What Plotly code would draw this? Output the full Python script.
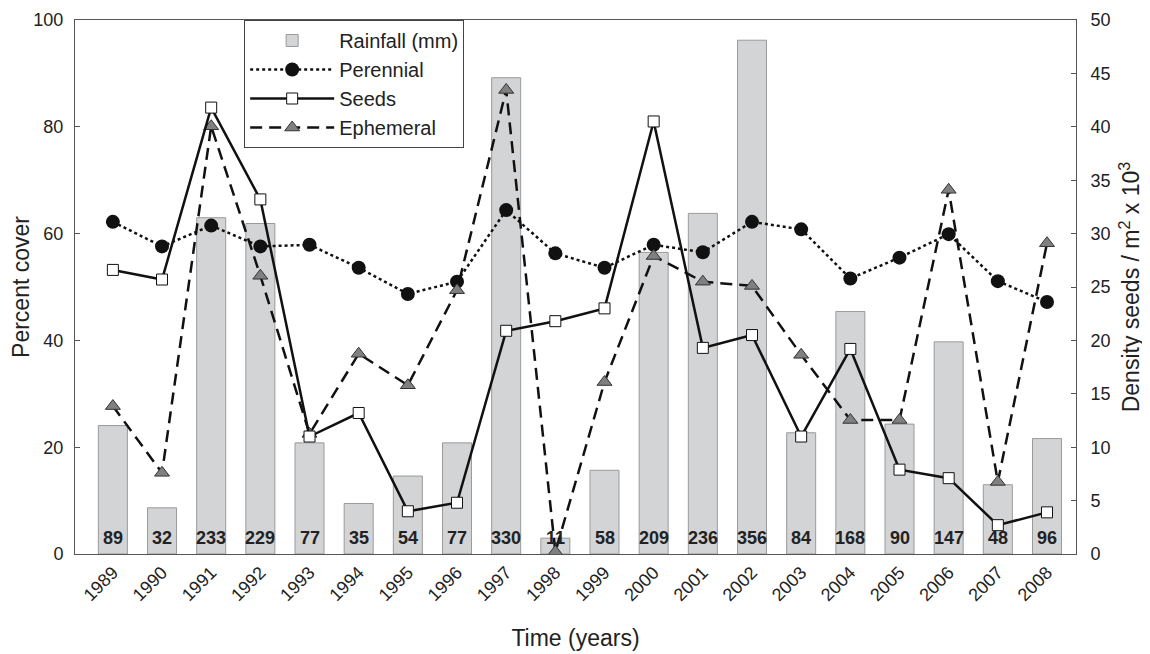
import plotly.graph_objects as go

years = list(range(1989, 2009))
rainfall_labels = [89, 32, 233, 229, 77, 35, 54, 77, 330, 11, 58, 209, 236, 356, 84, 168, 90, 147, 48, 96]
# bar heights as drawn in the picture (mm)
rainfall_bars = [89, 32, 233, 229, 77, 35, 54, 77, 330, 11, 58, 209, 236, 356, 84, 168, 90, 147, 48, 80]
perennial = [62.2, 57.6, 61.5, 57.6, 57.9, 53.6, 48.7, 51.0, 64.4, 56.3,
             53.6, 57.9, 56.5, 62.2, 60.8, 51.6, 55.5, 59.9, 51.1, 47.2]
seeds = [26.6, 25.7, 41.8, 33.2, 11.0, 13.2, 4.0, 4.8, 20.9, 21.8,
         23.0, 40.5, 19.3, 20.5, 11.0, 19.2, 7.9, 7.1, 2.7, 3.9]
ephemeral = [27.7, 15.2, 80.1, 52.1, 22.5, 37.5, 31.6, 49.4, 86.9, 0.4,
             32.2, 55.8, 51.0, 50.2, 37.3, 25.1, 25.1, 68.2, 13.5, 58.2]

FONT = "Liberation Sans, Arial, sans-serif"
AX = "#555555"

fig = go.Figure()
fig.add_trace(go.Bar(x=years, y=rainfall_bars, name="Rainfall (mm)", width=0.59,
                     marker=dict(color="#d3d4d6", line=dict(color="#9a9a9a", width=1)),
                     yaxis="y"))
fig.add_trace(go.Scatter(x=years, y=perennial, name="Perennial", mode="lines+markers",
                         line=dict(color="#111111", width=2.5, dash="dot"),
                         marker=dict(symbol="circle", size=14, color="#111111"),
                         yaxis="y2"))
fig.add_trace(go.Scatter(x=years, y=seeds, name="Seeds", mode="lines+markers",
                         line=dict(color="#111111", width=2.5),
                         marker=dict(symbol="square", size=11, color="white",
                                     line=dict(color="#111111", width=1)),
                         yaxis="y3"))
fig.add_trace(go.Scatter(x=years, y=ephemeral, name="Ephemeral", mode="lines+markers",
                         line=dict(color="#111111", width=2.5, dash="12px,7px"),
                         marker=dict(symbol="triangle-up", size=13, color="#808080",
                                     line=dict(color="#333333", width=1)),
                         yaxis="y2"))

for yr, r in zip(years, rainfall_labels):
    fig.add_annotation(x=yr, y=0, xref="x", yref="paper", yanchor="bottom", yshift=4,
                       text=f"<b>{r}</b>", showarrow=False,
                       font=dict(family=FONT, size=18, color="#222222"))

fig.update_layout(
    width=1150, height=654,
    margin=dict(l=67, r=82, t=12, b=108, autoexpand=False),
    paper_bgcolor="white", plot_bgcolor="white",
    font=dict(family=FONT, size=18, color="#222222"),
    showlegend=True,
    legend=dict(x=0.169, y=1, xanchor="left", yanchor="top",
                bgcolor="white", bordercolor="#444444", borderwidth=1,
                font=dict(size=20), tracegroupgap=0, itemwidth=84, entrywidth=150),
    xaxis=dict(range=[1988.23, 2008.59], tickvals=years, ticktext=[str(y) for y in years],
               tickangle=-45, showline=True, linecolor=AX, linewidth=1, mirror=True,
               showgrid=False, zeroline=False, ticks="", automargin=False,
               title=dict(text="Time (years)", font=dict(size=23), standoff=25)),
    yaxis=dict(range=[0, 370], visible=False, showgrid=False, automargin=False),
    yaxis2=dict(range=[0, 100], dtick=20, overlaying="y", side="left",
                showline=True, linecolor=AX, linewidth=1, ticks="inside",
                ticklen=5, tickcolor=AX, showgrid=False, zeroline=False,
                ticklabelstandoff=7, automargin=False,
                title=dict(text="Percent cover", font=dict(size=23), standoff=1)),
    yaxis3=dict(range=[0, 50], dtick=5, overlaying="y", side="right",
                showline=True, linecolor=AX, linewidth=1, ticks="inside",
                ticklen=5, tickcolor=AX, showgrid=False, zeroline=False,
                ticklabelstandoff=10, automargin=False,
                title=dict(text="Density seeds / m<sup>2</sup> x 10<sup>3</sup>",
                           font=dict(size=23), standoff=13)),
)

fig.write_html("out.html")
